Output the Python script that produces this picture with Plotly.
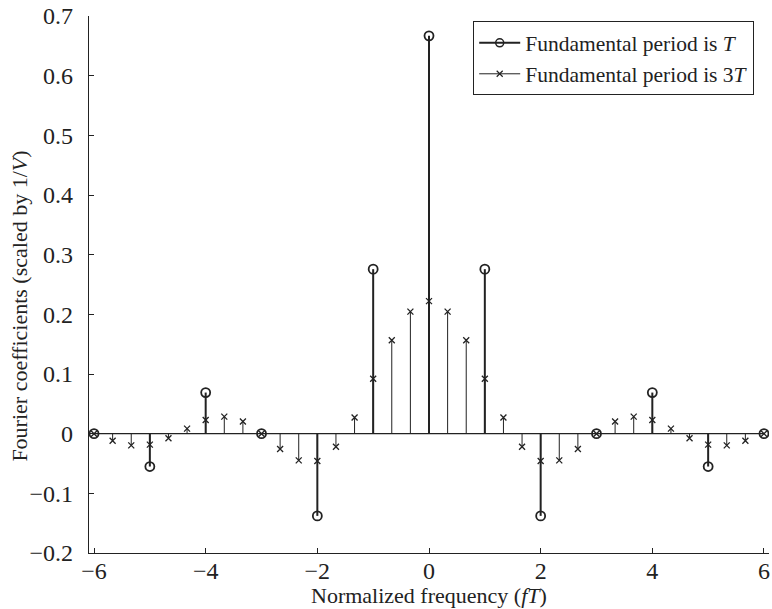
import plotly.graph_objects as go

# Fourier coefficients of the pulse train, fundamental period T (harmonics at integer fT)
freq_T = [-6, -5, -4, -3, -2, -1, 0, 1, 2, 3, 4, 5, 6]
coef_T = [0.0, -0.0551, 0.0689, 0.0, -0.1378, 0.2757, 0.6667,
          0.2757, -0.1378, 0.0, 0.0689, -0.0551, 0.0]

# Same pulse, fundamental period 3T (harmonics every 1/3 in fT)
k_3T = list(range(-18, 19))
freq_3T = [k / 3 for k in k_3T]
coef_3T_half = [0.2222, 0.2046, 0.1567, 0.0919, 0.0272, -0.0218, -0.0459,
                -0.0448, -0.0256, 0.0, 0.0205, 0.0285, 0.0230, 0.0084,
                -0.0078, -0.0184, -0.0196, -0.0120, 0.0]
coef_3T = coef_3T_half[:0:-1] + coef_3T_half

x_ticks = [-6, -4, -2, 0, 2, 4, 6]
y_ticks = [-0.2, -0.1, 0, 0.1, 0.2, 0.3, 0.4, 0.5, 0.6, 0.7]

INK = "#222222"
FONT = "Liberation Serif"
FS = 22
TICK_FS = 24


def stem_xy(xs, ys):
    sx, sy = [], []
    for x, y in zip(xs, ys):
        sx += [x, x, None]
        sy += [0, y, None]
    return sx, sy


fig = go.Figure()

# zero baseline across the frequency span
fig.add_shape(type="line", xref="x", yref="y",
              x0=min(freq_T), x1=max(freq_T), y0=0, y1=0,
              line=dict(color=INK, width=1.2), layer="below")

# thin stems for period 3T
sx, sy = stem_xy(freq_3T, coef_3T)
fig.add_trace(go.Scatter(x=sx, y=sy, mode="lines", showlegend=False,
                         line=dict(color=INK, width=1), hoverinfo="skip"))
# thick stems for period T
sx, sy = stem_xy(freq_T, coef_T)
fig.add_trace(go.Scatter(x=sx, y=sy, mode="lines", showlegend=False,
                         line=dict(color=INK, width=2), hoverinfo="skip"))

# stem heads
fig.add_trace(go.Scatter(x=freq_T, y=coef_T, mode="markers", showlegend=False,
                         marker=dict(symbol="circle-open", size=9, color=INK,
                                     line=dict(width=1.8, color=INK))))
fig.add_trace(go.Scatter(x=freq_3T, y=coef_3T, mode="markers", showlegend=False,
                         marker=dict(symbol="x-thin-open", size=6, color=INK,
                                     line=dict(width=1.3, color=INK))))

# legend entries
fig.add_trace(go.Scatter(x=[None], y=[None], mode="lines+markers",
                         name="Fundamental period is <i>T</i>",
                         line=dict(color=INK, width=2),
                         marker=dict(symbol="circle-open", size=8, color=INK,
                                     line=dict(width=1.5, color=INK))))
fig.add_trace(go.Scatter(x=[None], y=[None], mode="lines+markers",
                         name="Fundamental period is 3<i>T</i>",
                         line=dict(color=INK, width=1),
                         marker=dict(symbol="x-thin-open", size=6, color=INK,
                                     line=dict(width=1.2, color=INK))))

axis_common = dict(showgrid=False, zeroline=False, showline=True,
                   linecolor=INK, linewidth=1.2, ticks="inside", ticklen=5,
                   tickcolor=INK, tickwidth=1.2, mirror=False,
                   tickfont=dict(family=FONT, size=TICK_FS, color=INK))

fig.update_xaxes(range=[-6.09, 6.09], tickvals=x_ticks, ticklabelstandoff=-4,
                 **axis_common)
fig.update_yaxes(range=[-0.2, 0.7], tickvals=y_ticks, ticklabelstandoff=10,
                 **axis_common)

# axis titles
fig.add_annotation(text="Normalized frequency (<i>fT</i>)",
                   xref="paper", yref="paper", x=0.5, y=-0.08,
                   xanchor="center", yanchor="middle", showarrow=False,
                   font=dict(family=FONT, size=FS, color=INK))
fig.add_annotation(text="Fourier coefficients (scaled by 1/<i>V</i>)",
                   xref="paper", yref="paper", x=-0.102, y=0.46,
                   xanchor="center", yanchor="middle", showarrow=False,
                   textangle=-90,
                   font=dict(family=FONT, size=FS, color=INK))

fig.update_layout(
    width=772, height=609,
    margin=dict(l=89, r=3, t=16, b=56),
    paper_bgcolor="white", plot_bgcolor="white",
    font=dict(family=FONT, size=FS, color=INK),
    legend=dict(x=0.565, y=0.99, xanchor="left", yanchor="top",
                bgcolor="white", bordercolor=INK, borderwidth=1,
                font=dict(family=FONT, size=21.5, color=INK),
                tracegroupgap=0, itemwidth=41),
)

fig.write_html("out.html")
